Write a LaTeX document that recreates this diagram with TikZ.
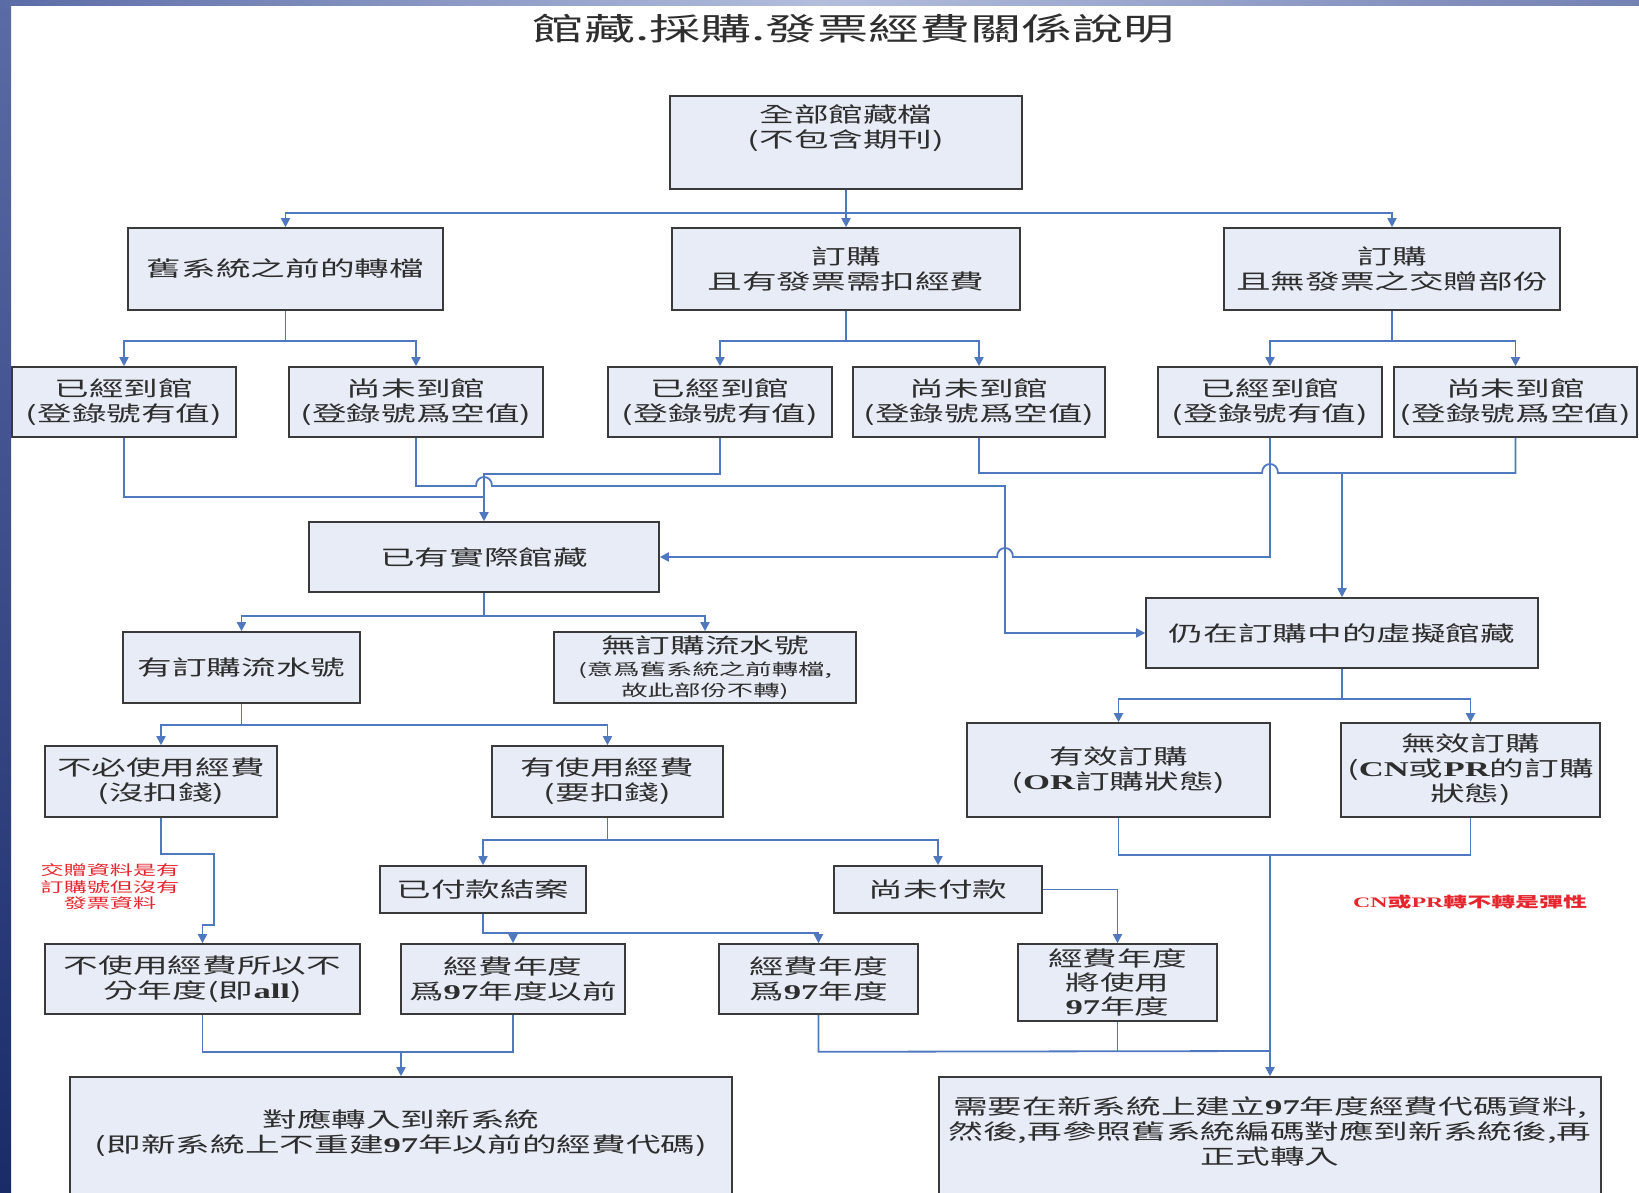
\documentclass[tikz,border=0pt]{standalone}
\usepackage{fontspec}
\setmainfont{Noto Sans CJK TC}[FakeStretch=1.65]
\newfontfamily\latnfont{Liberation Serif}[FakeStretch=1.65]
\newcommand{\latn}[1]{{\latnfont\bfseries #1}}
\newcommand{\smallline}{\fontsize{16}{21}\selectfont}
\usetikzlibrary{arrows.meta}

\definecolor{boxfill}{HTML}{E7ECF6}
\definecolor{boxline}{HTML}{3A3A3A}
\definecolor{linkblue}{HTML}{4F78BF}
\definecolor{notered}{HTML}{E5262E}
\definecolor{inkgray}{HTML}{2E2E2E}
\definecolor{barA}{HTML}{5B6BA6}
\definecolor{barB}{HTML}{1A2B6A}
\definecolor{barL}{HTML}{B3BEDD}

\begin{document}
\begin{tikzpicture}[x=1pt,y=-1pt,
    link/.style={draw=linkblue,line width=1.8pt},
    arr/.style={link,-{Triangle[length=9pt,width=9pt]}}]
  \tikzstyle{boxN}=[rectangle,draw=boxline,line width=1.6pt,fill=boxfill,text=inkgray,
    align=center,inner sep=2pt,font=\fontsize{21}{25}\selectfont]
  \tikzstyle{noteR}=[text=notered,align=center,font=\fontsize{14}{16.5}\selectfont]

  \useasboundingbox (0,0) rectangle (1639,1193);
  \clip (0,0) rectangle (1639,1193);

  % slide frame
  \shade[top color=barA,bottom color=barB] (0,0) rectangle (11,1193);
  \shade[left color=barA,right color=barA!85,middle color=barL] (0,0) rectangle (1639,6);

  \node[text=inkgray,font=\fontsize{31}{35}\selectfont] (title) at (854,29) {館藏.採購.發票經費關係說明};

  % top rows
  \node[boxN,minimum width=352pt,minimum height=93pt] (b_all) at (846,142.5) {全部館藏檔\\(不包含期刊)\\\strut};
  \node[boxN,minimum width=315pt,minimum height=82pt] (b_old) at (285.5,269) {舊系統之前的轉檔};
  \node[boxN,minimum width=348pt,minimum height=82pt] (b_inv) at (846,269) {訂購\\且有發票需扣經費};
  \node[boxN,minimum width=336pt,minimum height=82pt] (b_gift) at (1392,269) {訂購\\且無發票之交贈部份};

  \node[boxN,minimum width=224pt,minimum height=70pt] (b_old_in) at (124,402) {已經到館\\(登錄號有值)};
  \node[boxN,minimum width=254pt,minimum height=70pt] (b_old_out) at (416,402) {尚未到館\\(登錄號爲空值)};
  \node[boxN,minimum width=224pt,minimum height=70pt] (b_inv_in) at (720,402) {已經到館\\(登錄號有值)};
  \node[boxN,minimum width=252pt,minimum height=70pt] (b_inv_out) at (979,402) {尚未到館\\(登錄號爲空值)};
  \node[boxN,minimum width=224pt,minimum height=70pt] (b_gift_in) at (1270,402) {已經到館\\(登錄號有值)};
  \node[boxN,minimum width=243pt,minimum height=70pt] (b_gift_out) at (1515.5,402) {尚未到館\\(登錄號爲空值)};

  % real and virtual holdings
  \node[boxN,minimum width=350pt,minimum height=70pt] (b_real) at (484,557) {已有實際館藏};
  \node[boxN,minimum width=392pt,minimum height=70pt] (b_virt) at (1342,633) {仍在訂購中的虛擬館藏};

  \node[boxN,minimum width=237pt,minimum height=71pt] (b_ord) at (241.5,667.5) {有訂購流水號};
  \node[boxN,minimum width=302pt,minimum height=71pt] (b_noord) at (705,667.5)
    {無訂購流水號\\[-3pt]{\smallline (意爲舊系統之前轉檔,}\\[-4pt]{\smallline 故此部份不轉)}};
  \node[boxN,minimum width=232pt,minimum height=71pt] (b_nofee) at (161,781.5) {不必使用經費\\(沒扣錢)};
  \node[boxN,minimum width=231pt,minimum height=71pt] (b_fee) at (607.5,781.5) {有使用經費\\(要扣錢)};
  \node[boxN,minimum width=206pt,minimum height=47pt] (b_paid) at (483,889.5) {已付款結案};
  \node[boxN,minimum width=208pt,minimum height=47pt] (b_unpaid) at (938,889.5) {尚未付款};

  \node[boxN,minimum width=303pt,minimum height=94pt] (b_valid) at (1118.5,770) {有效訂購\\(\latn{OR}訂購狀態)};
  \node[boxN,minimum width=259pt,minimum height=94pt] (b_void) at (1470.5,770) {無效訂購\\(\latn{CN}或\latn{PR}的訂購\\狀態)};

  % fund years
  \node[boxN,minimum width=315pt,minimum height=70pt] (b_all_yr) at (202.5,979) {不使用經費所以不\\分年度(即\latn{all})};
  \node[boxN,minimum width=224pt,minimum height=70pt] (b_pre97) at (513,979) {經費年度\\爲\latn{97}年度以前};
  \node[boxN,minimum width=199pt,minimum height=70pt] (b_y97) at (818.5,979) {經費年度\\爲\latn{97}年度};
  \node[boxN,minimum width=199pt,minimum height=77pt] (b_will97) at (1117.5,982.5) {經費年度\\[-1pt]將使用\\[-1pt]\latn{97}年度};

  \node[boxN,minimum width=662pt,minimum height=140pt] (b_map) at (401,1147)
    {對應轉入到新系統\\(即新系統上不重建\latn{97}年以前的經費代碼)\\\strut};
  \node[boxN,minimum width=662pt,minimum height=140pt] (b_need) at (1270,1147)
    {需要在新系統上建立\latn{97}年度經費代碼資料,\\然後,再參照舊系統編碼對應到新系統後,再\\正式轉入\\\strut};

  % red notes
  \node[noteR] (n_gift) at (110,887) {交贈資料是有\\訂購號但沒有\\發票資料};
  \node[noteR,font=\fontsize{14.5}{16.5}\selectfont\bfseries] (n_cnpr) at (1470,902) {\latn{CN}或\latn{PR}轉不轉是彈性};

  % connectors
  \draw[arr] (b_all.south) -- (b_inv.north);
  \draw[arr] (b_all.south) -- ++(0,23) -| (b_old.north);
  \draw[arr] (b_all.south) -- ++(0,23) -| (b_gift.north);

  \draw[arr] (b_old.south) -- ++(0,30) -| (b_old_in.north);
  \draw[arr] (b_old.south) -- ++(0,30) -| (b_old_out.north);
  \draw[arr] (b_inv.south) -- ++(0,30) -| (b_inv_in.north);
  \draw[arr] (b_inv.south) -- ++(0,30) -| (b_inv_out.north);
  \draw[arr] (b_gift.south) -- ++(0,30) -| (b_gift_in.north);
  \draw[arr] (b_gift.south) -- ++(0,30) -| (b_gift_out.north);

  \coordinate (j_real) at (484,497);
  \coordinate (j_virt) at (1342,473);
  \draw[link] (b_old_in.south) |- (j_real);
  \draw[arr] (b_inv_in.south) -- ++(0,36) -| (b_real.north);
  \draw[arr] (b_old_out.south) |- (476,486) .. controls (476,474) and (492,474) .. (492,486)
    -- (1005,486) |- (b_virt.west);
  \draw[arr] (b_gift_in.south) |- (1013,557) .. controls (1013,545) and (997,545) .. (997,557)
    -- (b_real.east);
  \draw[link] (b_inv_out.south) |- (1262,473) .. controls (1262,461) and (1278,461) .. (1278,473)
    -| (b_gift_out.south);
  \draw[arr] (j_virt) -- (b_virt.north);

  \draw[arr] (b_real.south) -- ++(0,23) -| (b_ord.north);
  \draw[arr] (b_real.south) -- ++(0,23) -| (b_noord.north);
  \draw[arr] (b_ord.south) -- ++(0,21) -| (b_nofee.north);
  \draw[arr] (b_ord.south) -- ++(0,21) -| (b_fee.north);
  \draw[arr] (b_fee.south) -- ++(0,22) -| (b_paid.north);
  \draw[arr] (b_fee.south) -- ++(0,22) -| (b_unpaid.north);
  \draw[arr] (b_nofee.south) -- ++(0,36) -| (214,925) -| (b_all_yr.north);
  \draw[arr] (b_paid.south) -- ++(0,19) -| (b_pre97.north);
  \draw[arr] (b_paid.south) -- ++(0,19) -| (b_y97.north);
  \draw[arr] (b_unpaid.east) -| (b_will97.north);

  \draw[arr] (b_virt.south) -- ++(0,30) -| (b_valid.north);
  \draw[arr] (b_virt.south) -- ++(0,30) -| (b_void.north);

  \coordinate (j_need) at (1270,854);
  \coordinate (j_map) at (401,1051);
  \draw[link] (b_valid.south) -- ++(0,37) -| (b_void.south);
  \draw[arr] (j_need) -- (b_need.north);
  \draw[link] (b_all_yr.south) -- ++(0,37) -| (b_pre97.south);
  \draw[arr] (j_map) -- (b_map.north);
  \draw[link] (b_y97.south) -- ++(0,37) -- (1270,1051);
  \draw[link] (b_will97.south) -- ++(0,30);
\end{tikzpicture}
\end{document}
